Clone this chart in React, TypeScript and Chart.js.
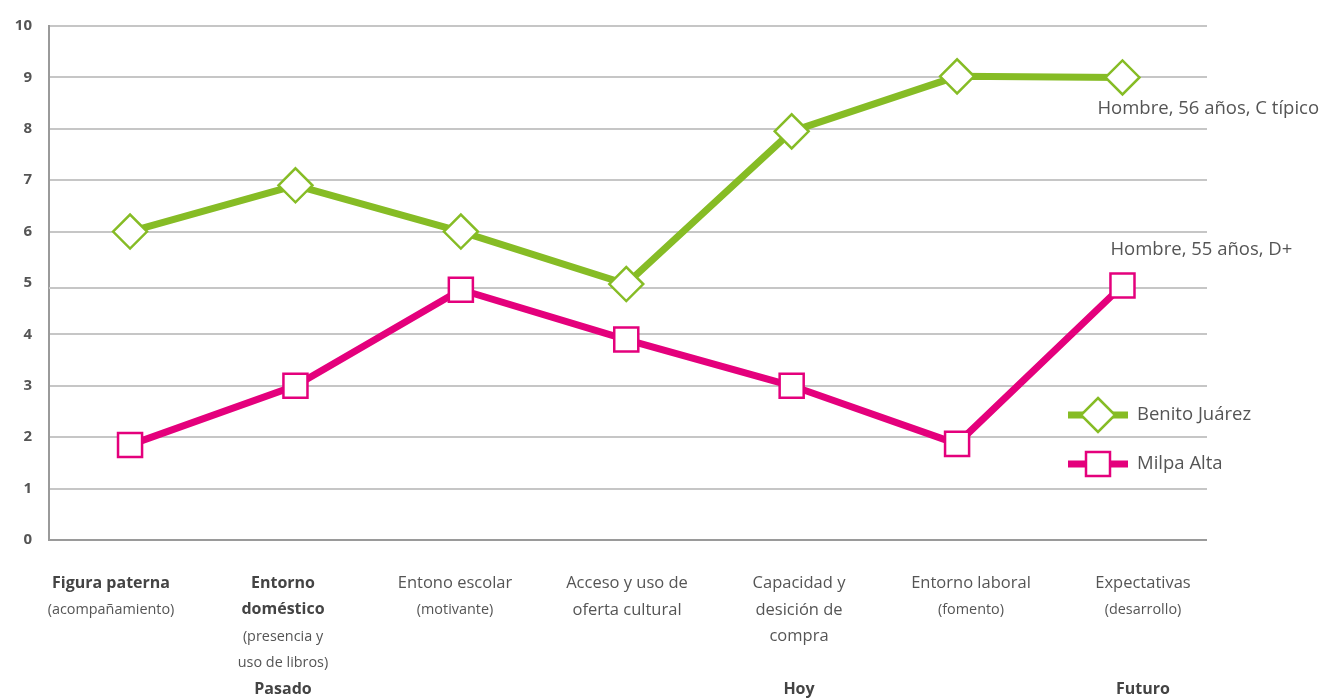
import React, { useEffect, useRef } from 'react';
import { Chart, registerables } from 'chart.js';

Chart.register(...registerables);

// ---------- data ----------
const categoryIndex = [0, 1, 2, 3, 4, 5, 6];
const benitoJuarez = [6, 6.9, 6, 4.98, 7.95, 9.02, 9.0];
const milpaAlta = [1.85, 3, 4.87, 3.9, 3, 1.87, 4.95];
const seriesNames = ['Benito Juárez', 'Milpa Alta'];
const seriesNotes = ['Hombre, 56 años, C típico', 'Hombre, 55 años, D+'];
const yMin = 0;
const yMax = 10;
const yStep = 1;

type Seg = [string, 'b' | 'n' | 's'];
const categoryLabels: Seg[][] = [
  [['Figura paterna', 'b'], ['(acompañamiento)', 's']],
  [['Entorno', 'b'], ['doméstico', 'b'], ['(presencia y', 's'], ['uso de libros)', 's']],
  [['Entono escolar', 'n'], ['(motivante)', 's']],
  [['Acceso y uso de', 'n'], ['oferta cultural', 'n']],
  [['Capacidad y', 'n'], ['desición de', 'n'], ['compra', 'n']],
  [['Entorno laboral', 'n'], ['(fomento)', 's']],
  [['Expectativas', 'n'], ['(desarrollo)', 's']],
];
const periodLabels = ['', 'Pasado', '', '', 'Hoy', '', 'Futuro'];

// ---------- styles ----------
const GREEN = '#86bc25';
const PINK = '#e4007c';
const TEXT = '#555555';
const GRID = '#c6c6c6';
const AXIS = '#9a9a9a';
const FONT = '"Open Sans", "Noto Sans", sans-serif';
const LABEL_LEFT = 111;
const LABEL_STEP = 172;

function drawMarker(ctx: CanvasRenderingContext2D, kind: 'diamond' | 'square', x: number, y: number, color: string) {
  ctx.save();
  ctx.beginPath();
  if (kind === 'diamond') {
    const r = 17;
    ctx.moveTo(x, y - r);
    ctx.lineTo(x + r, y);
    ctx.lineTo(x, y + r);
    ctx.lineTo(x - r, y);
    ctx.closePath();
  } else {
    const h = 12;
    ctx.rect(x - h, y - h, 2 * h, 2 * h);
  }
  ctx.fillStyle = '#ffffff';
  ctx.fill();
  ctx.lineWidth = 2.5;
  ctx.strokeStyle = color;
  ctx.stroke();
  ctx.restore();
}

const extrasPlugin = {
  id: 'extras',
  beforeDatasetsDraw(chart: any) {
    // the "5" grid line in the original sits a few pixels below its label
    const ctx: CanvasRenderingContext2D = chart.ctx;
    const ys = chart.scales.y;
    const a = chart.chartArea;
    const y = Math.round(ys.getPixelForValue(5)) + 5;
    ctx.save();
    ctx.beginPath();
    ctx.moveTo(a.left, y);
    ctx.lineTo(a.right, y);
    ctx.lineWidth = 2;
    ctx.strokeStyle = GRID;
    ctx.stroke();
    ctx.restore();
  },
  afterDraw(chart: any) {
    const ctx: CanvasRenderingContext2D = chart.ctx;
    const xs = chart.scales.x;
    const ys = chart.scales.y;
    ctx.save();
    ctx.textAlign = 'center';
    ctx.textBaseline = 'middle';
    // category labels
    categoryLabels.forEach((lines, i) => {
      const x = LABEL_LEFT + LABEL_STEP * i;
      lines.forEach(([txt, kind], j) => {
        if (kind === 'b') ctx.font = `bold 16px ${FONT}`;
        else if (kind === 's') ctx.font = `14.4px ${FONT}`;
        else ctx.font = `16.5px ${FONT}`;
        ctx.fillStyle = kind === 'b' ? '#444444' : TEXT;
        ctx.fillText(txt, x, 583 + j * 26.8);
      });
      if (periodLabels[i]) {
        ctx.font = `bold 16px ${FONT}`;
        ctx.fillStyle = '#444444';
        ctx.fillText(periodLabels[i], x, 689);
      }
    });

    // series notes near last points
    ctx.textAlign = 'left';
    ctx.font = `18.5px ${FONT}`;
    ctx.fillStyle = TEXT;
    const last = categoryIndex.length - 1;
    const gx = xs.getPixelForValue(categoryIndex[last]);
    const gy = ys.getPixelForValue(benitoJuarez[last]);
    ctx.fillText(seriesNotes[0], gx - 25, gy + 31);
    const px = xs.getPixelForValue(categoryIndex[last]);
    const py = ys.getPixelForValue(milpaAlta[last]);
    ctx.fillText(seriesNotes[1], px - 12, py - 36);

    // legend
    const legendItems: [string, string, 'diamond' | 'square', number][] = [
      [seriesNames[0], GREEN, 'diamond', 415],
      [seriesNames[1], PINK, 'square', 464],
    ];
    legendItems.forEach(([name, color, kind, y]) => {
      ctx.beginPath();
      ctx.moveTo(1068, y);
      ctx.lineTo(1128, y);
      ctx.lineWidth = 7;
      ctx.strokeStyle = color;
      ctx.stroke();
      drawMarker(ctx, kind, 1098, y, color);
      ctx.font = `18.5px ${FONT}`;
      ctx.fillStyle = TEXT;
      ctx.textAlign = 'left';
      ctx.fillText(name, 1137, y);
    });
    ctx.restore();
  },
};

export default function App() {
  const ref = useRef<HTMLCanvasElement | null>(null);
  useEffect(() => {
    if (!ref.current) return;
    const chart = new Chart(ref.current, {
      type: 'line',
      data: {
        datasets: [
          {
            label: seriesNames[0],
            data: categoryIndex.map((x, i) => ({ x, y: benitoJuarez[i] })),
            borderColor: GREEN,
            borderWidth: 7,
            pointStyle: 'rectRot',
            pointRadius: 17,
            pointHoverRadius: 17,
            pointBackgroundColor: '#ffffff',
            pointBorderColor: GREEN,
            pointBorderWidth: 2.5,
            tension: 0,
          },
          {
            label: seriesNames[1],
            data: categoryIndex.map((x, i) => ({ x, y: milpaAlta[i] })),
            borderColor: PINK,
            borderWidth: 7,
            pointStyle: 'rect',
            pointRadius: 17,
            pointHoverRadius: 17,
            pointBackgroundColor: '#ffffff',
            pointBorderColor: PINK,
            pointBorderWidth: 2.5,
            tension: 0,
          },
        ],
      },
      options: {
        animation: false,
        responsive: false,
        maintainAspectRatio: false,
        layout: { padding: { top: 24, right: 120, bottom: 160, left: 0 } },
        plugins: { legend: { display: false }, tooltip: { enabled: false } },
        scales: {
          x: { type: 'linear', min: -0.49, max: 6.511, display: false },
          y: {
            min: yMin,
            max: yMax,
            ticks: {
              stepSize: yStep,
              color: TEXT,
              padding: 17,
              font: { family: FONT, size: 15, weight: 'bold' },
            },
            grid: {
              color: (c: any) =>
                c.index === 0 ? AXIS : c.tick && c.tick.value === 5 ? 'rgba(0,0,0,0)' : GRID,
              lineWidth: 2,
              drawTicks: false,
            },
            border: { display: true, color: AXIS, width: 2 },
            afterFit: (s: any) => {
              s.width = 49;
            },
          },
        },
      } as any,
      plugins: [extrasPlugin],
    });
    return () => chart.destroy();
  }, []);
  return (
    <div style={{ position: 'fixed', left: 0, top: 0, width: 1327, height: 700, background: '#fff' }}>
      <canvas ref={ref} width={1327} height={700} style={{ width: 1327, height: 700 }} />
    </div>
  );
}
